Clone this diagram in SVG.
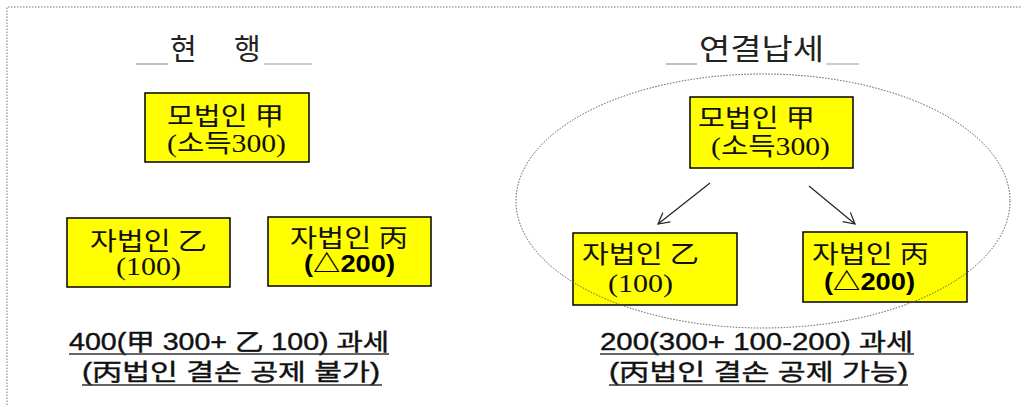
<svg xmlns="http://www.w3.org/2000/svg" width="1022" height="405" viewBox="0 0 1022 405">
<style>
.box{fill:#ffff00;stroke:#000;stroke-width:1.5}
.t{font-family:"Liberation Serif","Noto Sans CJK KR",serif;font-size:25px;fill:#111}
.b{font-family:"Liberation Sans","Noto Sans CJK KR",sans-serif;font-size:24px;fill:#000;font-weight:bold}
.title{font-family:"Liberation Serif","Noto Sans CJK KR",serif;font-size:29px;fill:#222}
.bot{font-family:"Liberation Sans","Noto Sans CJK KR",sans-serif;font-size:23px;fill:#111;stroke:#111;stroke-width:0.4}
.ul{stroke:#333;stroke-width:1.5}
.tl{stroke:#999;stroke-width:1.2}
.frame{stroke:#777;stroke-width:1;stroke-dasharray:1.5 1.5;fill:none}
.conn{stroke:#222;stroke-width:1.2;fill:none}
</style>
<defs>
<marker id="arr" markerWidth="14" markerHeight="14" refX="12" refY="7" orient="auto" markerUnits="userSpaceOnUse">
<path d="M1,1 L12,7 L1,13" fill="none" stroke="#222" stroke-width="1.2"/>
</marker>
</defs>
<rect width="1022" height="405" fill="#fff"/>
<path class="frame" d="M7,405 L7,7 L1022,7"/>

<g id="title-left">
<line class="tl" x1="136" y1="64" x2="168" y2="64"/>
<line class="tl" x1="264" y1="64" x2="312" y2="64"/>
<text class="title" x="170" y="60">현</text>
<text class="title" x="234" y="60">행</text>
</g>
<g id="title-right">
<line class="tl" x1="666" y1="64" x2="697" y2="64"/>
<line class="tl" x1="826" y1="64" x2="859" y2="64"/>
<text class="title" x="699" y="60" textLength="125" lengthAdjust="spacingAndGlyphs">연결납세</text>
</g>

<g id="node-left-gap">
<rect class="box" x="145" y="93" width="164" height="69"/>
<text class="t" x="167" y="125" textLength="117" lengthAdjust="spacingAndGlyphs">모법인 甲</text>
<text class="t" x="167" y="152" textLength="119" lengthAdjust="spacingAndGlyphs">(소득300)</text>
</g>
<g id="node-left-eul">
<rect class="box" x="67" y="218" width="163" height="69"/>
<text class="t" x="90" y="250" textLength="117" lengthAdjust="spacingAndGlyphs">자법인 乙</text>
<text class="t" x="116" y="275" textLength="65" lengthAdjust="spacingAndGlyphs">(100)</text>
</g>
<g id="node-left-byeong">
<rect class="box" x="268" y="217" width="163" height="69"/>
<text class="t" x="290" y="247" textLength="118" lengthAdjust="spacingAndGlyphs">자법인 丙</text>
<text class="b" x="304" y="272" textLength="91" lengthAdjust="spacingAndGlyphs">(△200)</text>
</g>

<g id="caption-left">
<text class="bot" x="69" y="350" textLength="320" lengthAdjust="spacingAndGlyphs">400(甲 300+  乙 100) 과세</text>
<line class="ul" x1="69" y1="354" x2="389" y2="354"/>
<text class="bot" x="82" y="380" textLength="298" lengthAdjust="spacingAndGlyphs" stroke-width="0.7">(丙법인 결손 공제 불가)</text>
<line class="ul" x1="82" y1="385" x2="382" y2="385"/>
</g>

<g id="node-right-gap">
<rect class="box" x="690" y="97" width="163" height="71"/>
<text class="t" x="698" y="127" textLength="117" lengthAdjust="spacingAndGlyphs">모법인 甲</text>
<text class="t" x="711" y="155" textLength="119" lengthAdjust="spacingAndGlyphs">(소득300)</text>
</g>
<g id="node-right-eul">
<rect class="box" x="573" y="233" width="164" height="72"/>
<text class="t" x="582" y="263" textLength="117" lengthAdjust="spacingAndGlyphs">자법인 乙</text>
<text class="t" x="608" y="292" textLength="65" lengthAdjust="spacingAndGlyphs">(100)</text>
</g>
<g id="node-right-byeong">
<rect class="box" x="803" y="232" width="164" height="70"/>
<text class="t" x="812" y="263" textLength="117" lengthAdjust="spacingAndGlyphs">자법인 丙</text>
<text class="b" x="824" y="290" textLength="91" lengthAdjust="spacingAndGlyphs">(△200)</text>
</g>

<g id="connectors">
<line class="conn" x1="710" y1="183" x2="658" y2="224" marker-end="url(#arr)"/>
<line class="conn" x1="809" y1="186" x2="855" y2="224" marker-end="url(#arr)"/>
</g>

<g id="group-ellipse">
<ellipse cx="763" cy="201" rx="247" ry="127" fill="none" stroke="#555" stroke-width="1" stroke-dasharray="1.5 1.5"/>
</g>

<g id="caption-right">
<text class="bot" x="600" y="350" textLength="313" lengthAdjust="spacingAndGlyphs">200(300+ 100-200) 과세</text>
<line class="ul" x1="600" y1="354" x2="914" y2="354"/>
<text class="bot" x="609" y="380" textLength="299" lengthAdjust="spacingAndGlyphs" stroke-width="0.7">(丙법인 결손 공제 가능)</text>
<line class="ul" x1="609" y1="385" x2="908" y2="385"/>
</g>
</svg>
